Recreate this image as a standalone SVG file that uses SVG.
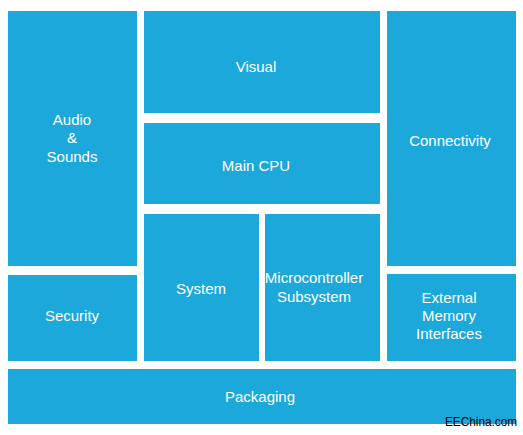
<svg xmlns="http://www.w3.org/2000/svg" width="523" height="435" viewBox="0 0 523 435">
<style>
.b{fill:#1ca8db}
.t{fill:#ffffff;font-family:"Liberation Sans",Arial,sans-serif;font-size:15px;text-anchor:middle}
.w{fill:#000000;font-family:"Liberation Sans",Arial,sans-serif;font-size:13px}
</style>
<rect x="0" y="0" width="523" height="435" fill="#ffffff"/>
<g id="audio"><rect class="b" x="8" y="11" width="129" height="255"/><text class="t" x="72" y="125">Audio</text><text class="t" x="72" y="143">&amp;</text><text class="t" x="72" y="162">Sounds</text></g>
<g id="security"><rect class="b" x="8" y="275" width="129" height="86"/><text class="t" x="72" y="321">Security</text></g>
<g id="visual"><rect class="b" x="144" y="11" width="236" height="102"/><text class="t" x="256" y="72">Visual</text></g>
<g id="maincpu"><rect class="b" x="144" y="123" width="236" height="81"/><text class="t" x="256" y="171">Main CPU</text></g>
<g id="system"><rect class="b" x="144" y="214" width="115" height="147"/><text class="t" x="201" y="294">System</text></g>
<g id="micro"><rect class="b" x="265" y="214" width="115" height="147"/><text class="t" x="314" y="283">Microcontroller</text><text class="t" x="314" y="302">Subsystem</text></g>
<g id="connectivity"><rect class="b" x="387" y="11" width="129" height="255"/><text class="t" x="450" y="146">Connectivity</text></g>
<g id="external"><rect class="b" x="387" y="274" width="129" height="87"/><text class="t" x="449" y="303">External</text><text class="t" x="449" y="321">Memory</text><text class="t" x="449" y="339">Interfaces</text></g>
<g id="packaging"><rect class="b" x="8" y="369" width="508" height="55"/><text class="t" x="260" y="402">Packaging</text></g>
<g id="connectors"></g>
<text class="w" x="445" y="426" textLength="72" lengthAdjust="spacingAndGlyphs">EEChina.com</text>
</svg>
